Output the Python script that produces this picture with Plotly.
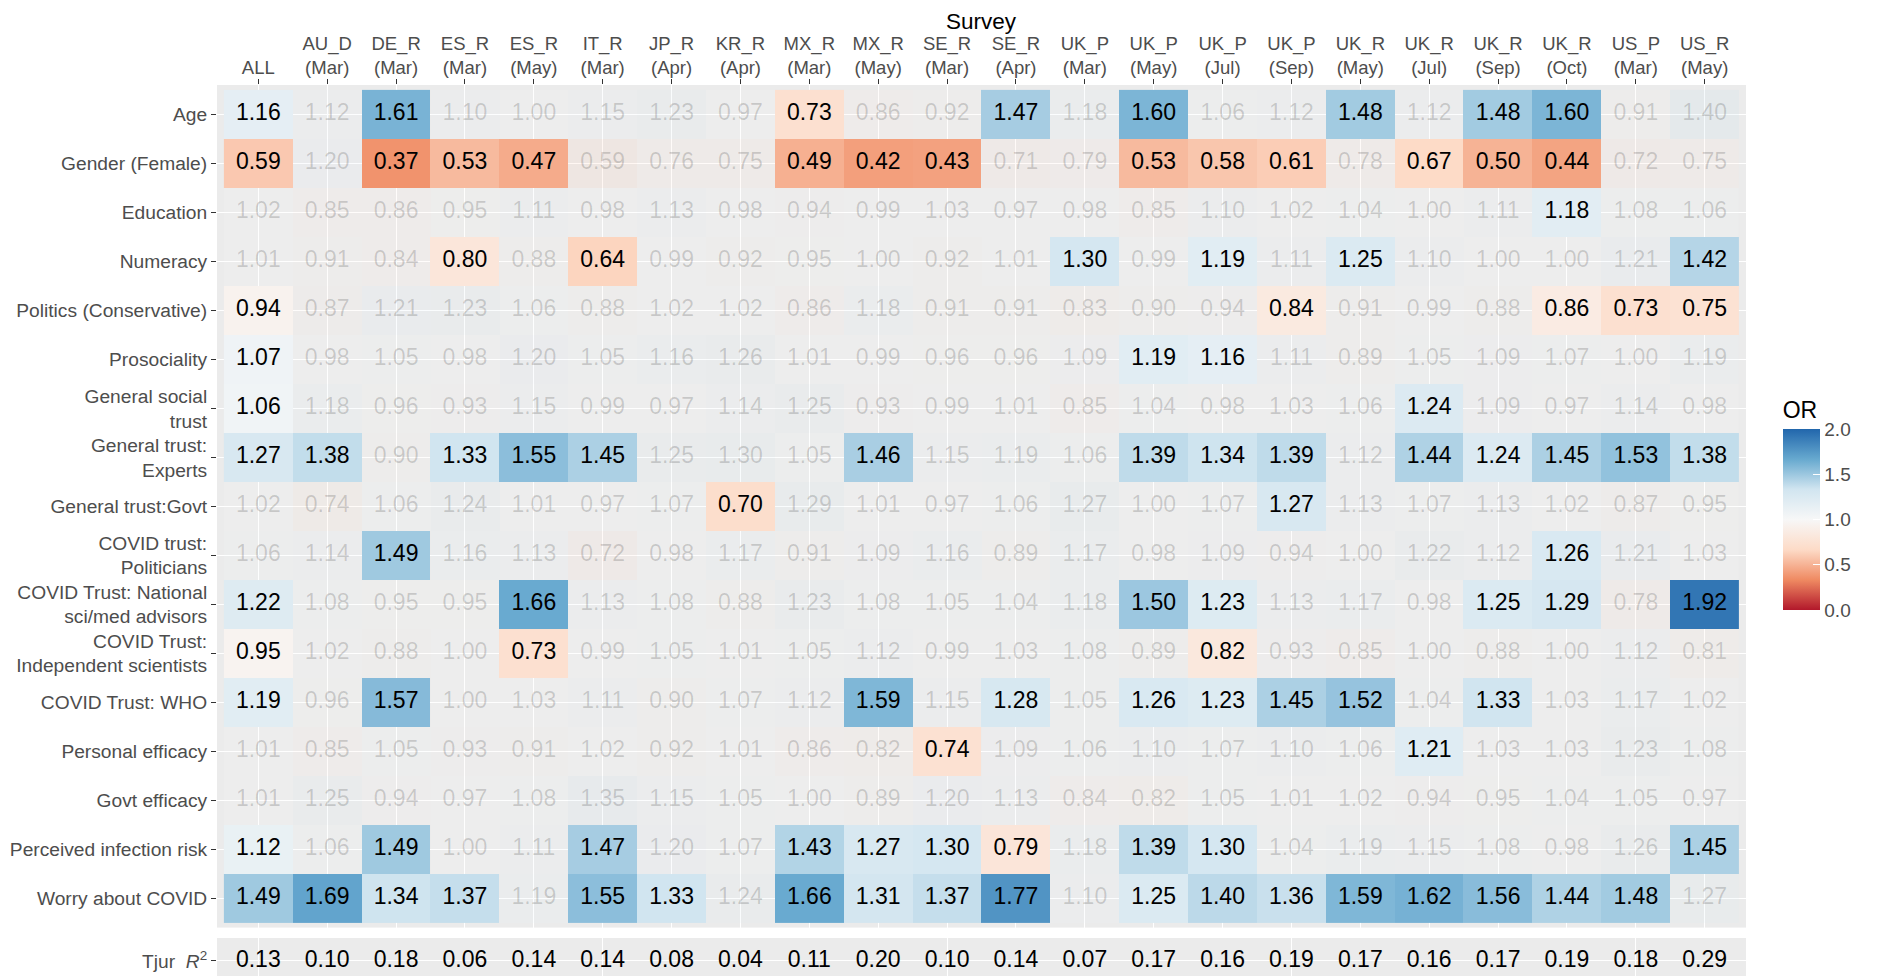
import plotly.graph_objects as go

surveys = ["ALL", "AU_D<br>(Mar)", "DE_R<br>(Mar)", "ES_R<br>(Mar)", "ES_R<br>(May)", "IT_R<br>(Mar)",
           "JP_R<br>(Apr)", "KR_R<br>(Apr)", "MX_R<br>(Mar)", "MX_R<br>(May)", "SE_R<br>(Mar)", "SE_R<br>(Apr)",
           "UK_P<br>(Mar)", "UK_P<br>(May)", "UK_P<br>(Jul)", "UK_P<br>(Sep)", "UK_R<br>(May)", "UK_R<br>(Jul)",
           "UK_R<br>(Sep)", "UK_R<br>(Oct)", "US_P<br>(Mar)", "US_R<br>(May)"]

predictors = ["Age", "Gender (Female)", "Education", "Numeracy", "Politics (Conservative)", "Prosociality",
              "General social<br>trust", "General trust:<br>Experts", "General trust:Govt",
              "COVID trust:<br>Politicians", "COVID Trust: National<br>sci/med advisors",
              "COVID Trust:<br>Independent scientists", "COVID Trust: WHO", "Personal efficacy",
              "Govt efficacy", "Perceived infection risk", "Worry about COVID"]

# Odds ratios per predictor (one value per survey)
or_age = [1.16, 1.12, 1.61, 1.10, 1.00, 1.15, 1.23, 0.97, 0.73, 0.86, 0.92, 1.47, 1.18, 1.60, 1.06, 1.12, 1.48, 1.12, 1.48, 1.60, 0.91, 1.40]
or_gender = [0.59, 1.20, 0.37, 0.53, 0.47, 0.59, 0.76, 0.75, 0.49, 0.42, 0.43, 0.71, 0.79, 0.53, 0.58, 0.61, 0.78, 0.67, 0.50, 0.44, 0.72, 0.75]
or_education = [1.02, 0.85, 0.86, 0.95, 1.11, 0.98, 1.13, 0.98, 0.94, 0.99, 1.03, 0.97, 0.98, 0.85, 1.10, 1.02, 1.04, 1.00, 1.11, 1.18, 1.08, 1.06]
or_numeracy = [1.01, 0.91, 0.84, 0.80, 0.88, 0.64, 0.99, 0.92, 0.95, 1.00, 0.92, 1.01, 1.30, 0.99, 1.19, 1.11, 1.25, 1.10, 1.00, 1.00, 1.21, 1.42]
or_politics = [0.94, 0.87, 1.21, 1.23, 1.06, 0.88, 1.02, 1.02, 0.86, 1.18, 0.91, 0.91, 0.83, 0.90, 0.94, 0.84, 0.91, 0.99, 0.88, 0.86, 0.73, 0.75]
or_prosocial = [1.07, 0.98, 1.05, 0.98, 1.20, 1.05, 1.16, 1.26, 1.01, 0.99, 0.96, 0.96, 1.09, 1.19, 1.16, 1.11, 0.89, 1.05, 1.09, 1.07, 1.00, 1.19]
or_social_trust = [1.06, 1.18, 0.96, 0.93, 1.15, 0.99, 0.97, 1.14, 1.25, 0.93, 0.99, 1.01, 0.85, 1.04, 0.98, 1.03, 1.06, 1.24, 1.09, 0.97, 1.14, 0.98]
or_trust_experts = [1.27, 1.38, 0.90, 1.33, 1.55, 1.45, 1.25, 1.30, 1.05, 1.46, 1.15, 1.19, 1.06, 1.39, 1.34, 1.39, 1.12, 1.44, 1.24, 1.45, 1.53, 1.38]
or_trust_govt = [1.02, 0.74, 1.06, 1.24, 1.01, 0.97, 1.07, 0.70, 1.29, 1.01, 0.97, 1.06, 1.27, 1.00, 1.07, 1.27, 1.13, 1.07, 1.13, 1.02, 0.87, 0.95]
or_politicians = [1.06, 1.14, 1.49, 1.16, 1.13, 0.72, 0.98, 1.17, 0.91, 1.09, 1.16, 0.89, 1.17, 0.98, 1.09, 0.94, 1.00, 1.22, 1.12, 1.26, 1.21, 1.03]
or_national = [1.22, 1.08, 0.95, 0.95, 1.66, 1.13, 1.08, 0.88, 1.23, 1.08, 1.05, 1.04, 1.18, 1.50, 1.23, 1.13, 1.17, 0.98, 1.25, 1.29, 0.78, 1.92]
or_independent = [0.95, 1.02, 0.88, 1.00, 0.73, 0.99, 1.05, 1.01, 1.05, 1.12, 0.99, 1.03, 1.08, 0.89, 0.82, 0.93, 0.85, 1.00, 0.88, 1.00, 1.12, 0.81]
or_who = [1.19, 0.96, 1.57, 1.00, 1.03, 1.11, 0.90, 1.07, 1.12, 1.59, 1.15, 1.28, 1.05, 1.26, 1.23, 1.45, 1.52, 1.04, 1.33, 1.03, 1.17, 1.02]
or_personal_eff = [1.01, 0.85, 1.05, 0.93, 0.91, 1.02, 0.92, 1.01, 0.86, 0.82, 0.74, 1.09, 1.06, 1.10, 1.07, 1.10, 1.06, 1.21, 1.03, 1.03, 1.23, 1.08]
or_govt_eff = [1.01, 1.25, 0.94, 0.97, 1.08, 1.35, 1.15, 1.05, 1.00, 0.89, 1.20, 1.13, 0.84, 0.82, 1.05, 1.01, 1.02, 0.94, 0.95, 1.04, 1.05, 0.97]
or_risk = [1.12, 1.06, 1.49, 1.00, 1.11, 1.47, 1.20, 1.07, 1.43, 1.27, 1.30, 0.79, 1.18, 1.39, 1.30, 1.04, 1.19, 1.15, 1.08, 0.98, 1.26, 1.45]
or_worry = [1.49, 1.69, 1.34, 1.37, 1.19, 1.55, 1.33, 1.24, 1.66, 1.31, 1.37, 1.77, 1.10, 1.25, 1.40, 1.36, 1.59, 1.62, 1.56, 1.44, 1.48, 1.27]

# Significance flags (1 = significant)
sig_age = [1, 0, 1, 0, 0, 0, 0, 0, 1, 0, 0, 1, 0, 1, 0, 0, 1, 0, 1, 1, 0, 0]
sig_gender = [1, 0, 1, 1, 1, 0, 0, 0, 1, 1, 1, 0, 0, 1, 1, 1, 0, 1, 1, 1, 0, 0]
sig_education = [0, 0, 0, 0, 0, 0, 0, 0, 0, 0, 0, 0, 0, 0, 0, 0, 0, 0, 0, 1, 0, 0]
sig_numeracy = [0, 0, 0, 1, 0, 1, 0, 0, 0, 0, 0, 0, 1, 0, 1, 0, 1, 0, 0, 0, 0, 1]
sig_politics = [1, 0, 0, 0, 0, 0, 0, 0, 0, 0, 0, 0, 0, 0, 0, 1, 0, 0, 0, 1, 1, 1]
sig_prosocial = [1, 0, 0, 0, 0, 0, 0, 0, 0, 0, 0, 0, 0, 1, 1, 0, 0, 0, 0, 0, 0, 0]
sig_social_trust = [1, 0, 0, 0, 0, 0, 0, 0, 0, 0, 0, 0, 0, 0, 0, 0, 0, 1, 0, 0, 0, 0]
sig_trust_experts = [1, 1, 0, 1, 1, 1, 0, 0, 0, 1, 0, 0, 0, 1, 1, 1, 0, 1, 1, 1, 1, 1]
sig_trust_govt = [0, 0, 0, 0, 0, 0, 0, 1, 0, 0, 0, 0, 0, 0, 0, 1, 0, 0, 0, 0, 0, 0]
sig_politicians = [0, 0, 1, 0, 0, 0, 0, 0, 0, 0, 0, 0, 0, 0, 0, 0, 0, 0, 0, 1, 0, 0]
sig_national = [1, 0, 0, 0, 1, 0, 0, 0, 0, 0, 0, 0, 0, 1, 1, 0, 0, 0, 1, 1, 0, 1]
sig_independent = [1, 0, 0, 0, 1, 0, 0, 0, 0, 0, 0, 0, 0, 0, 1, 0, 0, 0, 0, 0, 0, 0]
sig_who = [1, 0, 1, 0, 0, 0, 0, 0, 0, 1, 0, 1, 0, 1, 1, 1, 1, 0, 1, 0, 0, 0]
sig_personal_eff = [0, 0, 0, 0, 0, 0, 0, 0, 0, 0, 1, 0, 0, 0, 0, 0, 0, 1, 0, 0, 0, 0]
sig_govt_eff = [0, 0, 0, 0, 0, 0, 0, 0, 0, 0, 0, 0, 0, 0, 0, 0, 0, 0, 0, 0, 0, 0]
sig_risk = [1, 0, 1, 0, 0, 1, 0, 0, 1, 1, 1, 1, 0, 1, 1, 0, 0, 0, 0, 0, 0, 1]
sig_worry = [1, 1, 1, 1, 0, 1, 1, 0, 1, 1, 1, 1, 0, 1, 1, 1, 1, 1, 1, 1, 1, 0]

tjur_r2 = [0.13, 0.10, 0.18, 0.06, 0.14, 0.14, 0.08, 0.04, 0.11, 0.20, 0.10, 0.14, 0.07, 0.17, 0.16, 0.19, 0.17, 0.16, 0.17, 0.19, 0.18, 0.29]

or_rows = [or_age, or_gender, or_education, or_numeracy, or_politics, or_prosocial, or_social_trust,
           or_trust_experts, or_trust_govt, or_politicians, or_national, or_independent, or_who,
           or_personal_eff, or_govt_eff, or_risk, or_worry]
sig_rows = [sig_age, sig_gender, sig_education, sig_numeracy, sig_politics, sig_prosocial, sig_social_trust,
            sig_trust_experts, sig_trust_govt, sig_politicians, sig_national, sig_independent, sig_who,
            sig_personal_eff, sig_govt_eff, sig_risk, sig_worry]

n_x = len(surveys)
n_y = len(predictors)
xs = list(range(n_x))
ys = list(range(n_y))

z_sig = [[v if s else None for v, s in zip(r, sr)] for r, sr in zip(or_rows, sig_rows)]
z_ns = [[None if s else v for v, s in zip(r, sr)] for r, sr in zip(or_rows, sig_rows)]

rdbu7 = ["#B2182B", "#EF8A62", "#FDDBC7", "#F7F7F7", "#D1E5F0", "#67A9CF", "#2166AC"]
colorscale = [[i / 6, c] for i, c in enumerate(rdbu7)]

FONT = "Liberation Sans, Arial, Helvetica, sans-serif"
TICKCOL = "#4D4D4D"

fig = go.Figure()
fig.add_trace(go.Heatmap(x=xs, y=ys, z=z_ns, coloraxis="coloraxis", opacity=0.15,
                         hoverinfo="skip", xgap=0, ygap=0))
fig.add_trace(go.Heatmap(x=xs, y=ys, z=z_sig, coloraxis="coloraxis",
                         hoverinfo="skip", xgap=0, ygap=0))

tx_s, ty_s, tt_s, tx_n, ty_n, tt_n = [], [], [], [], [], []
for j, (r, sr) in enumerate(zip(or_rows, sig_rows)):
    for i, (v, s) in enumerate(zip(r, sr)):
        if s:
            tx_s.append(i); ty_s.append(j); tt_s.append(f"{v:.2f}")
        else:
            tx_n.append(i); ty_n.append(j); tt_n.append(f"{v:.2f}")

fig.add_trace(go.Scatter(x=tx_n, y=ty_n, text=tt_n, mode="text", hoverinfo="skip",
                         textfont=dict(size=23, color="rgba(0,0,0,0.16)", family=FONT), showlegend=False))
fig.add_trace(go.Scatter(x=tx_s, y=ty_s, text=tt_s, mode="text", hoverinfo="skip",
                         textfont=dict(size=23, color="#000000", family=FONT), showlegend=False))

fig.add_trace(go.Scatter(x=xs, y=[0] * n_x, text=[f"{v:.2f}" for v in tjur_r2], mode="text",
                         hoverinfo="skip", xaxis="x2", yaxis="y2",
                         textfont=dict(size=23, color="#000000", family=FONT), showlegend=False))

# The page adds an offset around the figure; page coordinates below are converted to figure coordinates.
OFF_X, OFF_Y = 8, 5
W, H = 1879 - OFF_X, 976 - OFF_Y
mt = 82 - OFF_Y
ml = 217 - OFF_X
mr = W - (1746 - OFF_X)
ph = H - mt
pw = W - ml - mr
main_bottom = (H - (924.6 - OFF_Y)) / ph
tjur_top = (H - (935 - OFF_Y)) / ph

axis_common = dict(showgrid=True, gridcolor="white", gridwidth=1.3, zeroline=False, showline=False,
                   ticks="outside", ticklen=5, tickwidth=1.1, tickcolor="#333333", automargin=False)

fig.update_layout(
    template="none",
    width=W, height=H,
    margin=dict(l=ml, r=mr, t=mt, b=0, pad=0, autoexpand=False),
    paper_bgcolor="white", plot_bgcolor="#EBEBEB",
    font=dict(family=FONT),
    showlegend=False,
    xaxis=dict(domain=[0, 1], range=[-0.6, n_x - 0.4], side="top", anchor="y",
               tickvals=xs, ticktext=surveys, ticklabelstandoff=-2,
               tickfont=dict(size=18.5, color=TICKCOL, family=FONT), **axis_common),
    yaxis=dict(domain=[main_bottom, 1], range=[n_y - 0.4, -0.6], anchor="x",
               tickvals=ys, ticktext=predictors,
               tickfont=dict(size=19.2, color=TICKCOL, family=FONT), **axis_common),
    xaxis2=dict(domain=[0, 1], range=[-0.6, n_x - 0.4], anchor="y2", matches="x",
                showticklabels=False, showgrid=True, gridcolor="white", gridwidth=1.3,
                zeroline=False, showline=False, ticks="", automargin=False),
    yaxis2=dict(domain=[0, tjur_top], range=[-0.37, 0.47], anchor="x2",
                tickvals=[0], ticktext=["Tjur  <i>R</i><sup>2</sup>"],
                tickfont=dict(size=19.2, color=TICKCOL, family=FONT), **axis_common),
    coloraxis=dict(
        cmin=0, cmax=2, colorscale=colorscale,
        colorbar=dict(
            x=(1782.7 - OFF_X - ml) / pw, xanchor="left",
            y=(H - (607 - OFF_Y)) / ph, yanchor="bottom",
            len=212, lenmode="pixels", thickness=37, outlinewidth=0,
            xpad=0, ypad=0,
            tickvals=[0, 0.5, 1, 1.5, 2], ticktext=["0.0", "0.5", "1.0", "1.5", "2.0"],
            ticks="inside", ticklen=7, tickcolor="white", tickwidth=1,
            tickfont=dict(size=19, color=TICKCOL, family=FONT),
            title=dict(text="OR", side="top", font=dict(size=23, color="black", family=FONT)),
        ),
    ),
    annotations=[dict(text="Survey", xref="paper", yref="paper", x=0.5, y=1 + (mt - (18.5 - OFF_Y)) / ph,
                      xanchor="center", yanchor="middle", showarrow=False,
                      font=dict(size=22.5, color="black", family=FONT))],
)

fig.write_html("out.html")
